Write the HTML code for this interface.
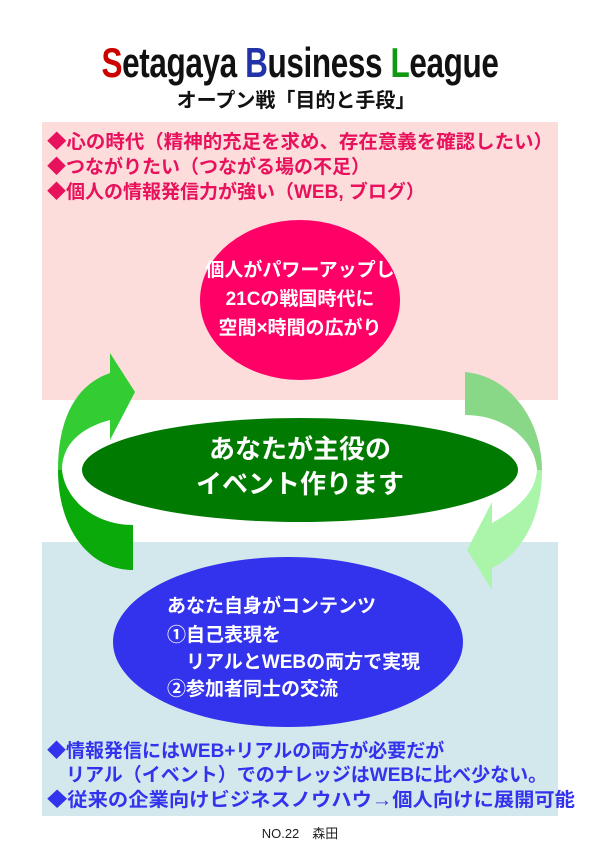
<!DOCTYPE html>
<html><head><meta charset="utf-8"><style>
html,body{margin:0;padding:0;background:#fff;}
svg{display:block;}
text{font-family:"Liberation Sans","Noto Sans CJK JP",sans-serif;font-weight:bold;}
</style></head><body>
<svg width="600" height="849" viewBox="0 0 600 849" xmlns="http://www.w3.org/2000/svg">
<rect x="42" y="122" width="516" height="278" fill="#fddcdc"/>
<rect x="42" y="542" width="516" height="274" fill="#d3e8ec"/>
<text x="300" y="77" font-size="42" text-anchor="middle" transform="translate(300,0) scale(0.75,1) translate(-300,0)" style="letter-spacing:-0.5px"><tspan fill="#cc0000">S</tspan><tspan fill="#111">etagaya </tspan><tspan fill="#2233aa">B</tspan><tspan fill="#111">usiness </tspan><tspan fill="#119911">L</tspan><tspan fill="#111">eague</tspan></text>
<text x="296" y="107" font-size="20" text-anchor="middle" fill="#111">オープン戦「目的と手段」</text>
<g font-size="19" fill="#e8115c">
<text x="47" y="148" textLength="506" lengthAdjust="spacingAndGlyphs">◆心の時代（精神的充足を求め、存在意義を確認したい）</text>
<text x="47" y="173">◆つながりたい（つながる場の不足）</text>
<text x="47" y="198">◆個人の情報発信力が強い（WEB, ブログ）</text>
</g>
<ellipse cx="300" cy="300" rx="100" ry="80" fill="#ff0066"/>
<g font-size="19" fill="#fff" text-anchor="middle">
<text x="300" y="276">個人がパワーアップし</text>
<text x="300" y="305">21Cの戦国時代に</text>
<text x="300" y="334">空間×時間の広がり</text>
</g>
<path d="M110,373 C75,385 58,420 58,470 L62,470 C62,445 80,428 110,420 L110,440 L135,392 L110,353 Z" fill="#33cc33"/>
<path d="M58,470 C58,530 90,570 133,570 L133,525 C95,525 65,500 62,470 Z" fill="#0aaa0a"/>
<path d="M465,372 C510,376 542,420 542,470 L537,470 C535,440 505,415 465,415 Z" fill="#88d888"/>
<path d="M542,470 C542,520 520,555 492,568 L492,590 L467,550 L492,502 L492,523 C515,510 535,495 537,470 Z" fill="#aaf5aa"/>
<ellipse cx="300" cy="470" rx="218" ry="52" fill="#007a00"/>
<g font-size="26" fill="#fff" text-anchor="middle">
<text x="300" y="458">あなたが主役の</text>
<text x="300" y="493">イベント作ります</text>
</g>
<ellipse cx="288" cy="642" rx="175" ry="85" fill="#3333ee"/>
<g font-size="19" fill="#fff">
<text x="167" y="612">あなた自身がコンテンツ</text>
<text x="167" y="641">①自己表現を</text>
<text x="167" y="668">　リアルとWEBの両方で実現</text>
<text x="167" y="695">②参加者同士の交流</text>
</g>
<g font-size="19" fill="#3333ee">
<text x="47" y="757">◆情報発信にはWEB+リアルの両方が必要だが</text>
<text x="47" y="781">　リアル（イベント）でのナレッジはWEBに比べ少ない。</text>
<text x="47" y="806" textLength="528" lengthAdjust="spacingAndGlyphs">◆従来の企業向けビジネスノウハウ→個人向けに展開可能</text>
</g>
<text x="300" y="838" font-size="13" fill="#222" text-anchor="middle" style="font-weight:normal">NO.22　森田</text>
</svg>
</body></html>
